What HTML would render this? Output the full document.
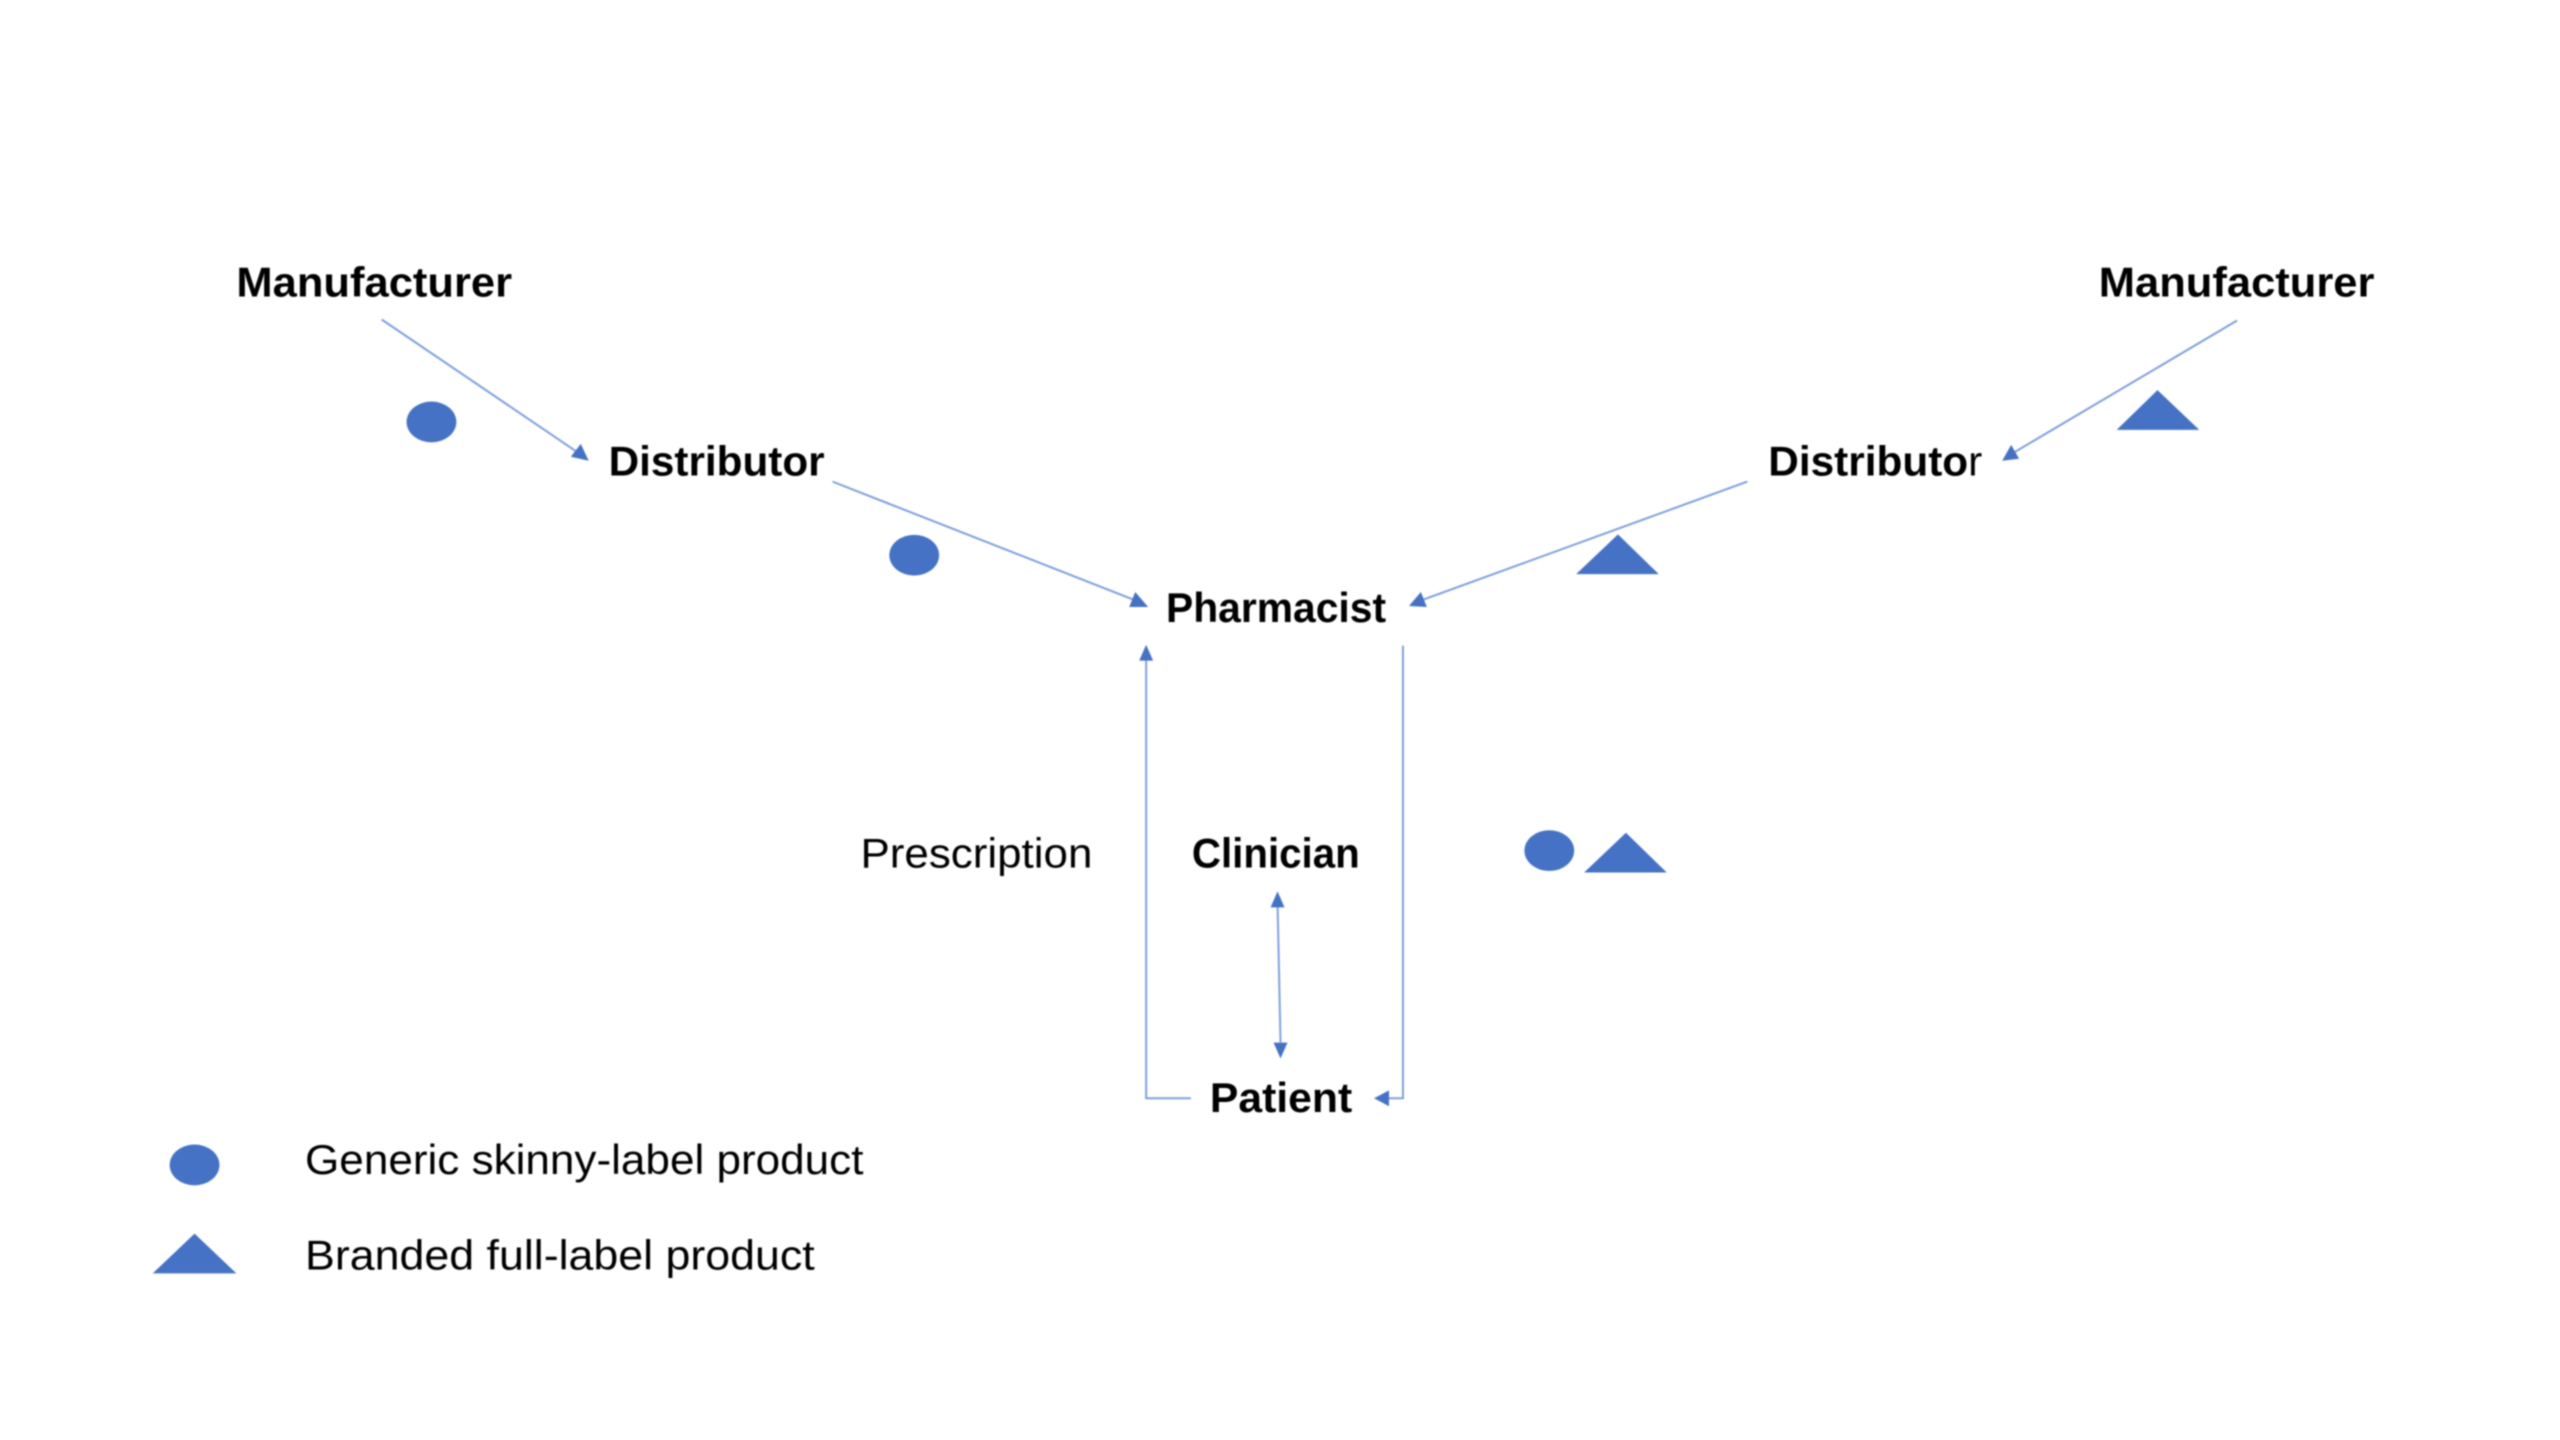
<!DOCTYPE html>
<html><head><meta charset="utf-8"><style>
html,body{margin:0;padding:0;background:#fff;width:2560px;height:1440px;overflow:hidden}
svg{display:block}
text{font-family:"Liberation Sans",sans-serif;fill:#000;font-size:41.5px}
.b{font-weight:bold}
</style></head><body>
<svg width="2560" height="1440" viewBox="0 0 2560 1440" xmlns="http://www.w3.org/2000/svg">
<defs><filter id="s" x="-5%" y="-5%" width="110%" height="110%"><feGaussianBlur stdDeviation="0.7"/></filter></defs>
<rect width="2560" height="1440" fill="#fff"/>
<g filter="url(#s)">
<g transform="matrix(.9954 0 0 .99464 -.55 .21)">
<g fill="none" stroke="#7f9fdc" stroke-width="2">
<line x1="384" y1="321" x2="583" y2="456"/>
<line x1="837" y1="484" x2="1140" y2="603"/>
<line x1="2248" y1="322" x2="2020" y2="457"/>
<line x1="1756" y1="484" x2="1424" y2="605"/>
<polyline points="1197,1104 1152,1104 1152,660"/>
<polyline points="1410,649 1410,1104 1394,1104"/>
<line x1="1284" y1="908" x2="1287" y2="1048"/>
</g>
<g fill="#4472c4">
<polygon points="592,463 574,459 584,446"/>
<polygon points="1154,610 1135,610 1141,595"/>
<polygon points="2012,463 2021,447 2029,461"/>
<polygon points="1416,609 1428,595 1434,610"/>
<polygon points="1152,648 1145,664 1159,664"/>
<polygon points="1381,1104 1396,1096 1396,1112"/>
<polygon points="1284,896 1277,912 1291,912"/>
<polygon points="1287,1064 1280,1048 1294,1048"/>
<ellipse cx="434" cy="424" rx="25" ry="20.5"/>
<ellipse cx="919" cy="558" rx="25" ry="20.5"/>
<ellipse cx="1557" cy="855" rx="25" ry="20.5"/>
<ellipse cx="196" cy="1171" rx="25" ry="20.5"/>
<polygon points="2168,392 2127,432 2210,432"/>
<polygon points="1626,537 1584,577 1667,577"/>
<polygon points="1634,837 1592,877 1675,877"/>
<polygon points="196,1240 154,1280 238,1280"/>
</g>
<text class="b" x="238" y="298" textLength="277" lengthAdjust="spacingAndGlyphs">Manufacturer</text>
<text class="b" x="2109" y="298" textLength="277" lengthAdjust="spacingAndGlyphs">Manufacturer</text>
<text class="b" x="612" y="478" textLength="217" lengthAdjust="spacingAndGlyphs">Distributor</text>
<text class="b" x="1777" y="478" textLength="215" lengthAdjust="spacingAndGlyphs">Distributo<tspan font-weight="normal">r</tspan></text>
<text class="b" x="1172" y="625" textLength="221" lengthAdjust="spacingAndGlyphs">Pharmacist</text>
<text class="b" x="1198" y="872" textLength="168.5" lengthAdjust="spacingAndGlyphs">Clinician</text>
<text class="b" x="1216" y="1118" textLength="143" lengthAdjust="spacingAndGlyphs">Patient</text>
<text x="865" y="872" textLength="233" lengthAdjust="spacingAndGlyphs">Prescription</text>
<text x="307" y="1180" textLength="561" lengthAdjust="spacingAndGlyphs">Generic skinny-label product</text>
<text x="307" y="1276" textLength="512" lengthAdjust="spacingAndGlyphs">Branded full-label product</text>
</g>
</g>
</svg>
</body></html>
